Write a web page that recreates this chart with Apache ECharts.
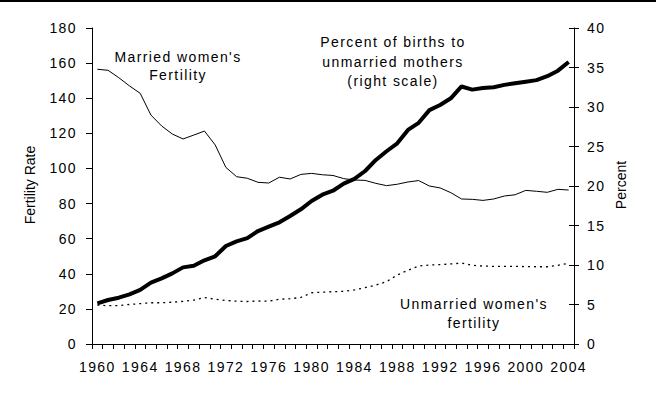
<!DOCTYPE html>
<html>
<head>
<meta charset="utf-8">
<script src="https://cdn.jsdelivr.net/npm/echarts@6/dist/echarts.min.js"></script>
<style>
html, body { margin: 0; padding: 0; background: #fff; }
#chart { width: 656px; height: 394px; }
#chart text { letter-spacing: 1.4px; }
#chart text[style*="Liberation"], #chart text[font-family*="Liberation"] { letter-spacing: 0; }
</style>
</head>
<body>
<div id="chart"></div>
<script>
const years = ['1960','1961','1962','1963','1964','1965','1966','1967','1968','1969',
  '1970','1971','1972','1973','1974','1975','1976','1977','1978','1979',
  '1980','1981','1982','1983','1984','1985','1986','1987','1988','1989',
  '1990','1991','1992','1993','1994','1995','1996','1997','1998','1999',
  '2000','2001','2002','2003','2004'];

const marriedFertility = [156.5, 155.9, 151.7, 147, 142.8, 130.4, 124.2, 119.6, 116.8, 119,
  121.3, 113.4, 100.6, 95.3, 94.4, 92.1, 91.7, 95, 94, 96.6,
  97.2, 96.4, 96, 94.2, 93.4, 93.2, 91.5, 90.2, 91, 92.3,
  93.1, 90, 88.9, 86.2, 82.6, 82.4, 81.8, 82.6, 84.3, 85,
  87.5, 87, 86.4, 88.1, 87.7];

const unmarriedFertility = [22.2, 21.8, 21.9, 22.5, 23, 23.5, 23.5, 23.8, 24.3, 25,
  26.5, 25.5, 24.8, 24.4, 24.2, 24.5, 24.4, 25.5, 25.8, 26.5,
  29.2, 29.5, 29.8, 30, 30.8, 32.1, 33.6, 35.5, 39.3, 42,
  44.4, 45, 45.2, 45.6, 46.1, 44.8, 44.4, 44.2, 44.2, 44.2,
  44.1, 44, 44, 44.8, 46];

const percentUnmarriedBirths = [5.15, 5.57, 5.86, 6.28, 6.84, 7.76, 8.3, 8.94, 9.7, 9.9,
  10.6, 11.1, 12.4, 13.0, 13.4, 14.3, 14.85, 15.4, 16.2, 17.05,
  18.1, 18.9, 19.4, 20.3, 20.9, 21.9, 23.3, 24.4, 25.4, 27.1,
  28.0, 29.6, 30.25, 31.1, 32.6, 32.2, 32.4, 32.5, 32.8, 33.0,
  33.2, 33.4, 33.9, 34.6, 35.7];

const leftTicks = { min: 0, max: 180, interval: 20 };
const rightTicks = { min: 0, max: 40, interval: 5 };

const FONT = 'Arial';
const chart = echarts.init(document.getElementById('chart'), null, { renderer: 'svg' });

chart.setOption({
  animation: false,
  backgroundColor: '#fff',
  grid: { left: 92, right: 82, top: 28, bottom: 50, containLabel: false },
  xAxis: {
    type: 'category',
    data: years,
    boundaryGap: true,
    axisLine: { lineStyle: { color: '#000', width: 1 } },
    axisTick: { show: true, interval: 0, length: 5, lineStyle: { color: '#000' } },
    axisLabel: { interval: 3, margin: 16, color: '#000', fontSize: 14, fontFamily: FONT }
  },
  yAxis: [
    {
      type: 'value', position: 'left',
      min: leftTicks.min, max: leftTicks.max, interval: leftTicks.interval,
      splitLine: { show: false },
      axisLine: { show: true, lineStyle: { color: '#000', width: 1 } },
      axisTick: { show: true, length: 6, lineStyle: { color: '#000' } },
      axisLabel: { margin: 15, color: '#000', fontSize: 14, fontFamily: FONT }
    },
    {
      type: 'value', position: 'right',
      min: rightTicks.min, max: rightTicks.max, interval: rightTicks.interval,
      splitLine: { show: false },
      axisLine: { show: true, lineStyle: { color: '#000', width: 1 } },
      axisTick: { show: true, length: 5, lineStyle: { color: '#000' } },
      axisLabel: { margin: 13, color: '#000', fontSize: 14, fontFamily: FONT }
    },
    {
      type: 'value', position: 'right',
      min: rightTicks.min, max: rightTicks.max, interval: rightTicks.interval,
      splitLine: { show: false },
      axisLine: { show: false },
      axisTick: { show: true, inside: true, length: 5, lineStyle: { color: '#000' } },
      axisLabel: { show: false }
    }
  ],
  series: [
    {
      name: "Married women's fertility",
      type: 'line', yAxisIndex: 0, data: marriedFertility,
      symbol: 'none', lineStyle: { color: '#000', width: 1 }
    },
    {
      name: "Unmarried women's fertility",
      type: 'line', yAxisIndex: 0, data: unmarriedFertility,
      symbol: 'none', lineStyle: { color: '#000', width: 1.3, type: [2, 4] }
    },
    {
      name: 'Percent of births to unmarried mothers',
      type: 'line', yAxisIndex: 1, data: percentUnmarriedBirths,
      symbol: 'none', lineStyle: { color: '#000', width: 4 }
    }
  ],
  graphic: [
    { type: 'rect', shape: { x: 0, y: 0, width: 656, height: 2 }, style: { fill: '#000' } },
    { type: 'text', x: 30, y: 185, rotation: Math.PI / 2,
      style: { text: 'Fertility Rate', font: '14px "Liberation Sans"', fill: '#000', textAlign: 'center', textVerticalAlign: 'middle' } },
    { type: 'text', x: 621, y: 185, rotation: Math.PI / 2,
      style: { text: 'Percent', font: '14px "Liberation Sans"', fill: '#000', textAlign: 'center', textVerticalAlign: 'middle' } },
    { type: 'text', x: 178, y: 66,
      style: { text: "Married women's\nFertility", font: '14px Arial', lineHeight: 18.5, fill: '#000', textAlign: 'center', textVerticalAlign: 'middle' } },
    { type: 'text', x: 393, y: 61.5,
      style: { text: 'Percent of births to\nunmarried mothers\n(right scale)', font: '14px Arial', lineHeight: 19.75, fill: '#000', textAlign: 'center', textVerticalAlign: 'middle' } },
    { type: 'text', x: 474, y: 313.5,
      style: { text: "Unmarried women's\nfertility", font: '14px Arial', lineHeight: 19, fill: '#000', textAlign: 'center', textVerticalAlign: 'middle' } }
  ]
});
</script>
</body>
</html>
